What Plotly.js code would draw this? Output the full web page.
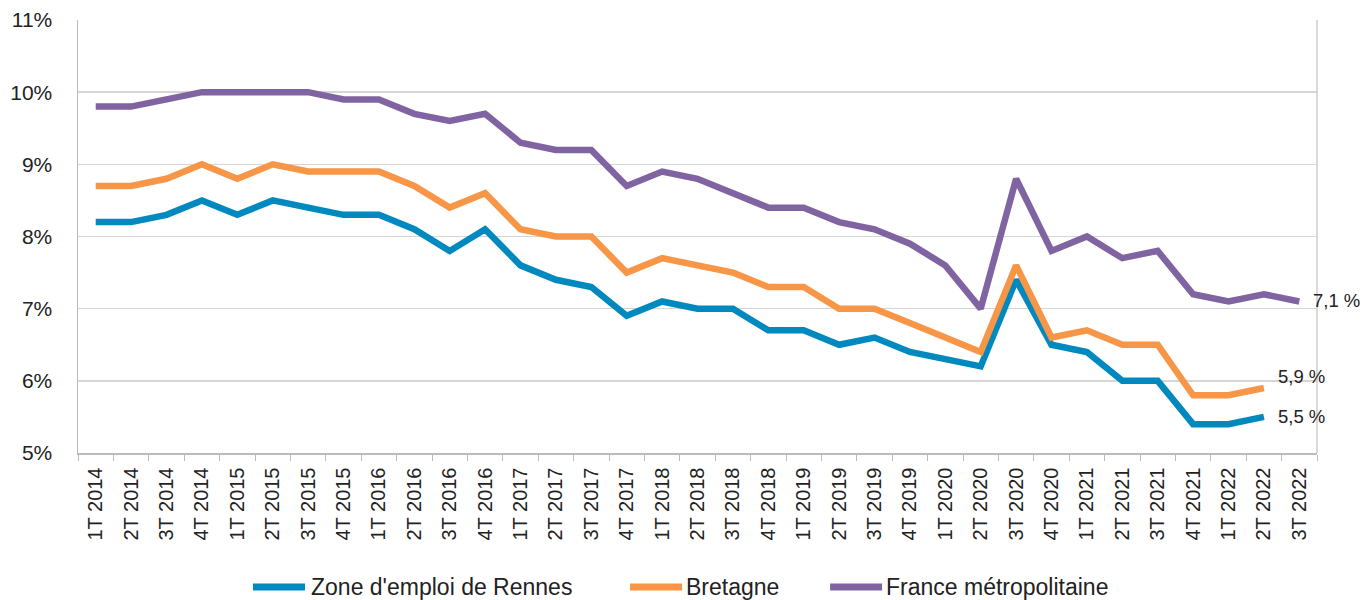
<!DOCTYPE html>
<html>
<head>
<meta charset="utf-8">
<script src="https://cdn.plot.ly/plotly-3.0.1.min.js"></script>
<style>html,body{margin:0;padding:0;background:#fff;}#chart{width:1363px;height:600px;}</style>
</head>
<body>
<div id="chart"></div>
<script>
const categories = ["1T 2014","2T 2014","3T 2014","4T 2014","1T 2015","2T 2015","3T 2015","4T 2015",
  "1T 2016","2T 2016","3T 2016","4T 2016","1T 2017","2T 2017","3T 2017","4T 2017",
  "1T 2018","2T 2018","3T 2018","4T 2018","1T 2019","2T 2019","3T 2019","4T 2019",
  "1T 2020","2T 2020","3T 2020","4T 2020","1T 2021","2T 2021","3T 2021","4T 2021",
  "1T 2022","2T 2022","3T 2022"];
const rennes = [8.2,8.2,8.3,8.5,8.3,8.5,8.4,8.3,8.3,8.1,7.8,8.1,7.6,7.4,7.3,6.9,7.1,7.0,7.0,6.7,6.7,6.5,6.6,6.4,6.3,6.2,7.4,6.5,6.4,6.0,6.0,5.4,5.4,5.5,null];
const bretagne = [8.7,8.7,8.8,9.0,8.8,9.0,8.9,8.9,8.9,8.7,8.4,8.6,8.1,8.0,8.0,7.5,7.7,7.6,7.5,7.3,7.3,7.0,7.0,6.8,6.6,6.4,7.6,6.6,6.7,6.5,6.5,5.8,5.8,5.9,null];
const france = [9.8,9.8,9.9,10.0,10.0,10.0,10.0,9.9,9.9,9.7,9.6,9.7,9.3,9.2,9.2,8.7,8.9,8.8,8.6,8.4,8.4,8.2,8.1,7.9,7.6,7.0,8.8,7.8,8.0,7.7,7.8,7.2,7.1,7.2,7.1];
const seriesNames = ["Zone d'emploi de Rennes","Bretagne","France métropolitaine"];
const yTickVals = [5,6,7,8,9,10,11];
const yTickText = ["5%","6%","7%","8%","9%","10%","11%"];
const endLabels = [
  {x:"2T 2022", y:5.5, text:"5,5 %", yshift:0},
  {x:"2T 2022", y:5.9, text:"5,9 %", yshift:12},
  {x:"3T 2022", y:7.1, text:"7,1 %", yshift:1}
];
const colors = ["#0089BF","#F79646","#8064A2"];
const seriesData = [rennes, bretagne, france];

const font = "Liberation Sans, Arial, Helvetica, sans-serif";
const traces = seriesData.map((d,i)=>({
  type:"scatter", mode:"lines", x:categories, y:d, name:seriesNames[i],
  line:{color:colors[i], width:6.5, shape:"linear"}, connectgaps:false,
  showlegend:false, hoverinfo:"x+y", cliponaxis:false
}));

// custom legend (thick long line samples as in the reference)
const legendItems = [
  {x0:0.1412, x1:0.1832, tx:0.1865},
  {x0:0.4455, x1:0.4875, tx:0.4891},
  {x0:0.6070, x1:0.6490, tx:0.6505}
];
const ly = -0.3095;
const shapes = legendItems.map((it,i)=>({
  type:"line", xref:"paper", yref:"paper", x0:it.x0, x1:it.x1, y0:ly, y1:ly,
  line:{color:colors[i], width:7}
}));
const annotations = legendItems.map((it,i)=>({
  xref:"paper", yref:"paper", x:it.tx, y:ly, xanchor:"left", yanchor:"middle",
  text:seriesNames[i], showarrow:false, font:{family:font, size:23, color:"#222"}
})).concat(endLabels.map(l=>({
  x:l.x, y:l.y, text:l.text, xanchor:"left", yanchor:"middle", xshift:12, yshift:l.yshift,
  showarrow:false, font:{family:font, size:18.5, color:"#222"}
})));

const layout = {
  width:1363, height:600,
  margin:{l:78, r:46, t:20, b:147, pad:0},
  paper_bgcolor:"#fff", plot_bgcolor:"#fff",
  showlegend:false,
  xaxis:{
    type:"category", range:[-0.5,34.5], tickangle:-90,
    tickfont:{family:font, size:20, color:"#222"},
    ticks:"outside", ticklen:6, tickcolor:"#bbb", tickson:"boundaries",
    ticklabelstandoff:5,
    showline:true, linecolor:"#bbb", linewidth:1.5, mirror:false,
    showgrid:false, zeroline:false, fixedrange:true
  },
  yaxis:{
    range:[5,11], tickvals:yTickVals, ticktext:yTickText,
    tickfont:{family:font, size:21, color:"#222"},
    ticks:"", ticklabelstandoff:20,
    showline:true, linecolor:"#bbb", linewidth:1.5,
    showgrid:true, gridcolor:"#d6d6d6", gridwidth:1.5, zeroline:false, fixedrange:true
  },
  shapes: shapes.concat([{type:"line", xref:"paper", yref:"paper", x0:1, x1:1, y0:0, y1:1, line:{color:"#ccc", width:1.5}}]),
  annotations: annotations
};
Plotly.newPlot("chart", traces, layout, {displayModeBar:false, staticPlot:true});
</script>
</body>
</html>
